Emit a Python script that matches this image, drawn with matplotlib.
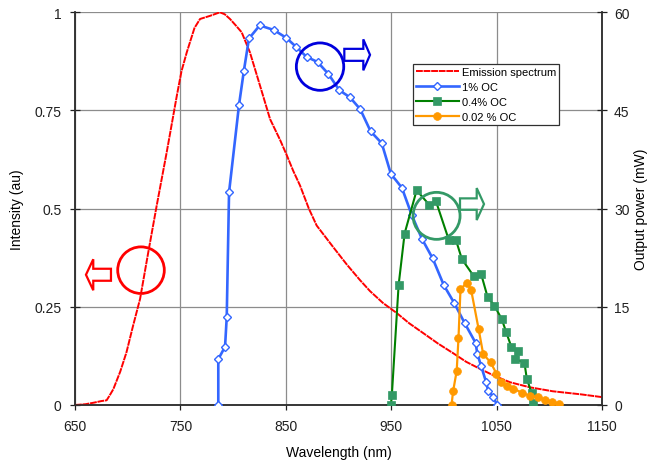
import matplotlib
matplotlib.use("Agg")
import matplotlib.pyplot as plt
from matplotlib.patches import Ellipse, Polygon

plt.rcParams['font.family'] = ['Liberation Sans', 'DejaVu Sans']

# Emission spectrum (normalised intensity, left axis)
emission_wl = [650, 660, 668, 675, 680, 683, 686.3, 692.9, 698.8, 704.9, 711.7,
               719.5, 727.5, 737.0, 746.6, 751.0, 756.0, 763.3, 768.6, 778.1,
               787.4, 792.0, 797.0, 803.0, 808.1, 815.9, 825.5, 835.0, 844.5,
               850.7, 857.0, 863.4, 871.8, 879.2, 894.9, 907.7, 920.3, 929.8,
               942.0, 955.2, 967.0, 980.3, 994.0, 1008.6, 1021.0, 1034.1, 1048.0,
               1062.5, 1081.5, 1103.0, 1130.2, 1150]
emission_int = [0.0, 0.002, 0.006, 0.01, 0.012, 0.025, 0.04, 0.085, 0.134, 0.2,
                0.27, 0.389, 0.508, 0.644, 0.788, 0.85, 0.898, 0.96, 0.983,
                0.991, 1.0, 0.995, 0.983, 0.965, 0.949, 0.898, 0.813, 0.728,
                0.675, 0.637, 0.596, 0.559, 0.5, 0.457, 0.402, 0.358, 0.318,
                0.29, 0.26, 0.234, 0.208, 0.183, 0.157, 0.132, 0.11, 0.092,
                0.074, 0.058, 0.045, 0.035, 0.027, 0.02]

# Tuning curves (output power, right axis)
oc1_wl = [785.9, 785.9, 792.3, 793.9, 796.1, 805.6, 810.1, 815.0, 825.2, 838.5,
          850.4, 859.8, 869.6, 880.1, 890.2, 900.7, 910.8, 920.5, 930.4, 940.9,
          949.6, 960.0, 969.2, 979.0, 989.2, 999.8, 1009.6, 1019.6, 1029.9,
          1031.6, 1035.1, 1039.9, 1041.8, 1046.9, 1050.2]
oc1_pw = [0, 7.0, 8.9, 13.4, 32.5, 45.9, 51.0, 56.0, 58.0, 57.3,
          56.1, 54.7, 53.2, 52.4, 50.6, 48.1, 47.0, 45.2, 41.8, 40.0,
          35.3, 33.2, 29.1, 25.4, 22.4, 18.3, 15.6, 12.5, 9.5,
          7.8, 6.0, 3.5, 2.2, 1.2, 0]

oc04_wl = [949.6, 950.5, 956.9, 962.6, 974.0, 985.9, 992.4, 1004.6, 1011.3, 1016.9,
           1028.1, 1035.2, 1041.3, 1047.7, 1054.8, 1059.0, 1063.8, 1070.3, 1067.3,
           1076.3, 1078.5, 1083.0, 1084.6]
oc04_pw = [0, 1.5, 18.3, 26.2, 32.8, 30.6, 31.1, 25.2, 25.2, 22.3,
           19.7, 20.0, 16.5, 15.2, 13.1, 11.1, 8.9, 8.2, 7.1,
           6.4, 4.0, 1.9, 0.3]

oc002_wl = [1007.1, 1008.6, 1012.0, 1013.7, 1015.6, 1021.8, 1025.8, 1032.8, 1037.1,
            1044.2, 1049.7, 1053.7, 1059.4, 1065.8, 1073.5, 1081.5, 1089.4, 1095.7,
            1102.0, 1108.6]
oc002_pw = [0, 2.1, 5.2, 10.2, 17.7, 18.7, 17.5, 11.6, 7.8,
            6.5, 4.8, 3.5, 2.85, 2.5, 1.9, 1.4, 1.2, 0.8,
            0.5, 0.1]

x_ticks = [650, 750, 850, 950, 1050, 1150]
int_ticks = [0, 0.25, 0.5, 0.75, 1]
int_labels = ['0', '0.25', '0.5', '0.75', '1']
pw_ticks = [0, 15, 30, 45, 60]

fig = plt.figure(figsize=(6.5, 4.64), dpi=100)
ax = fig.add_axes([75 / 650, 58 / 464, 527.2 / 650, 392.7 / 464])
ax2 = ax.twinx()

ax.set_xlim(650, 1150)
ax.set_ylim(0, 1)
ax2.set_ylim(0, 60)

ax.plot(emission_wl, emission_int, color='#ff0000', lw=1.4,
        ls=(0, (3.5, 0.4)), label='Emission spectrum', zorder=3)

ax2.plot(oc1_wl, oc1_pw, color='#3366ff', lw=1.9, marker='D', ms=4.3,
         mfc='white', mec='#3366ff', mew=1.0, label='1% OC', zorder=3)
ax2.plot(oc04_wl, oc04_pw, color='#008000', lw=1.5, marker='s', ms=6.2,
         mfc='#339966', mec='#339966', mew=0.5, label='0.4% OC', zorder=4)
ax2.plot(oc002_wl, oc002_pw, color='#ff9900', lw=1.6, marker='o', ms=5.6,
         mfc='#ff9900', mec='#ff9900', mew=0.5, label='0.02 % OC', zorder=5)

# grid and ticks
ax.set_xticks(x_ticks)
ax.set_yticks(int_ticks)
ax.set_yticklabels(int_labels)
ax2.set_yticks(pw_ticks)
ax.grid(True, color='#8c8c8c', lw=0.9)
ax.set_axisbelow(True)

for a in (ax, ax2):
    a.spines['top'].set_visible(False)
    for s in a.spines.values():
        s.set_color('#303030')
        s.set_linewidth(1.1)

ax.tick_params(axis='y', direction='inout', length=6.5, width=0.9,
               labelsize=10, pad=6.3, colors='#202020')
ax.tick_params(axis='x', direction='out', length=3.6, width=0.9,
               labelsize=10, pad=6.5, colors='#202020')
ax2.tick_params(axis='y', direction='inout', length=7, width=0.9,
                labelsize=10, pad=5.0, colors='#202020')

ax.set_xlabel('Wavelength (nm)', fontsize=10)
ax.xaxis.set_label_coords(0.5, -0.101)
ax.set_ylabel('Intensity (au)', fontsize=10)
ax.yaxis.set_label_coords(-0.096, 0.5)
ax2.set_ylabel('Output power (mW)', fontsize=10)
ax2.yaxis.set_label_coords(1.060, 0.5)

# legend combining both axes
h1, l1 = ax.get_legend_handles_labels()
h2, l2 = ax2.get_legend_handles_labels()
leg = ax2.legend(h1 + h2, l1 + l2, loc='upper left',
                 bbox_to_anchor=(0.6406, 0.8683), borderaxespad=0,
                 fontsize=8, handlelength=3.9, handletextpad=0.25,
                 labelspacing=0.45, borderpad=0.25, numpoints=1,
                 fancybox=False, framealpha=1, edgecolor='#303030')
leg.get_frame().set_linewidth(0.9)


# callout circles and block arrows pointing to the relevant axis
def callout_circle(x, y, radius_px, color):
    cx, cy = ax2.transData.transform((x, y))
    inv = ax2.transData.inverted()
    x1, _ = inv.transform((cx + radius_px, cy))
    _, y1 = inv.transform((cx, cy + radius_px))
    e = Ellipse((x, y), 2 * (x1 - x), 2 * (y1 - y), fill=False,
                edgecolor=color, lw=2.0, zorder=6, clip_on=False)
    ax2.add_patch(e)


def block_arrow(x_tip, y, direction, color, head_len=7.3, shaft_len=18.0,
                shaft_half=6.0, head_half=15.5):
    tx, ty = ax2.transData.transform((x_tip, y))
    d = 1 if direction == 'right' else -1
    hb = tx - d * head_len
    se = tx - d * (head_len + shaft_len)
    verts_px = [(tx, ty), (hb, ty + head_half), (hb, ty + shaft_half),
                (se, ty + shaft_half), (se, ty - shaft_half),
                (hb, ty - shaft_half), (hb, ty - head_half)]
    verts = ax2.transData.inverted().transform(verts_px)
    p = Polygon(verts, closed=True, fill=False, edgecolor=color, lw=1.6,
                zorder=6, clip_on=False, joinstyle='miter')
    ax2.add_patch(p)


callout_circle(712.6, 20.6, 23.3, '#ff0000')
block_arrow(660.4, 19.9, 'left', '#ff0000', head_len=7.3, shaft_len=17.7)

callout_circle(882.4, 51.7, 23.7, '#0000dd')
block_arrow(929.8, 53.5, 'right', '#0000dd', head_len=6.7, shaft_len=19.0)

callout_circle(992.9, 28.9, 23.5, '#339966')
block_arrow(1037.9, 30.7, 'right', '#339966', head_len=7.3, shaft_len=16.7,
            shaft_half=5.7, head_half=16.0)

fig.savefig('out.png', dpi=100)
